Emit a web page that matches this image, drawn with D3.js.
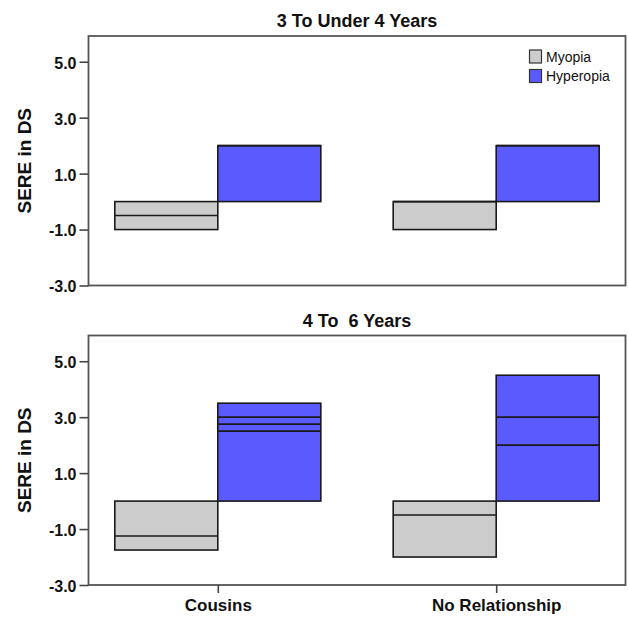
<!DOCTYPE html>
<html>
<head>
<meta charset="utf-8">
<script src="https://cdn.jsdelivr.net/npm/d3@7/dist/d3.min.js"></script>
<style>
  body { margin: 0; background: #fff; }
  text { font-family: "Liberation Sans", Arial, sans-serif; }
</style>
</head>
<body>
<svg id="chart" width="628" height="617"></svg>
<script>
// ---- data ----
const panels = ["3 To Under 4 Years", "4 To  6 Years"];
const categories = ["Cousins", "No Relationship"];
const series = ["Myopia", "Hyperopia"];
const seriesColors = ["#cccccc", "#5a5aff"];
const yTicks = [5.0, 3.0, 1.0, -1.0, -3.0];
const yTickLabels = ["5.0", "3.0", "1.0", "-1.0", "-3.0"];

// [panel][category]
const myopiaLow   = [[-1.0, -1.0], [-1.75, -2.0]];
const myopiaHigh  = [[0, 0], [0, 0]];
const myopiaLines = [[[-0.5], [0]], [[-1.25], [-0.5]]];
const hyperopiaLow   = [[0, 0], [0, 0]];
const hyperopiaHigh  = [[2.0, 2.0], [3.5, 4.5]];
const hyperopiaLines = [[[2.0], [2.0]], [[3.0, 2.75, 2.5], [3.0, 2.0]]];

const lows  = [myopiaLow, hyperopiaLow];
const highs = [myopiaHigh, hyperopiaHigh];
const lines = [myopiaLines, hyperopiaLines];

// ---- layout ----
const svg = d3.select("#chart");
const frameL = 88.5, frameR = 625.5;
const panelTops = [36, 335.5];
const panelH = 249.5;

const x = d3.scalePoint().domain(categories).range([frameL, frameR]).padding(0.4645);
const boxW = x.step() * 0.37;
const xs = d3.scaleBand().domain(series).range([-boxW, boxW]).padding(0);

panels.forEach((title, p) => {
  const top = panelTops[p], bottom = top + panelH;
  const y = d3.scaleLinear().domain([-3, 5.92]).range([bottom, top]);
  const g = svg.append("g");

  // title
  g.append("text")
    .attr("x", (frameL + frameR) / 2).attr("y", top - 9)
    .attr("text-anchor", "middle")
    .style("font-size", "18px").style("font-weight", "bold")
    .style("white-space", "pre")
    .attr("fill", "#111")
    .text(title);

  // boxes
  categories.forEach((c, ci) => {
    series.forEach((s, si) => {
      const x0 = x(c) + xs(s);
      const lo = lows[si][p][ci], hi = highs[si][p][ci];
      g.append("rect")
        .attr("x", x0).attr("y", y(hi))
        .attr("width", xs.bandwidth()).attr("height", y(lo) - y(hi))
        .attr("fill", seriesColors[si])
        .attr("stroke", "#1a1a1a").attr("stroke-width", 1.6);
      lines[si][p][ci].forEach(v => {
        g.append("line")
          .attr("x1", x0).attr("x2", x0 + xs.bandwidth())
          .attr("y1", y(v)).attr("y2", y(v))
          .attr("stroke", "#1a1a1a").attr("stroke-width", 1.6);
      });
    });
  });

  // frame
  g.append("rect")
    .attr("x", frameL).attr("y", top)
    .attr("width", frameR - frameL).attr("height", panelH)
    .attr("fill", "none").attr("stroke", "#555").attr("stroke-width", 1.8);

  // y axis
  const yAxis = d3.axisLeft(y).tickValues(yTicks)
    .tickFormat((d, i) => yTickLabels[i]).tickSize(9).tickPadding(3);
  const ga = g.append("g").attr("transform", `translate(${frameL},0)`).call(yAxis);
  ga.select(".domain").remove();
  ga.selectAll(".tick line").attr("stroke", "#444").attr("stroke-width", 1.6);
  ga.selectAll(".tick text")
    .style("font-size", "16px").style("font-weight", "bold")
    .attr("fill", "#111").attr("dy", "0.4em");

  // y axis title
  g.append("text")
    .attr("transform", `translate(24,${(top + bottom) / 2}) rotate(-90)`)
    .attr("text-anchor", "middle").attr("dominant-baseline", "central")
    .style("font-size", "19px").style("font-weight", "bold")
    .attr("fill", "#111")
    .text("SERE in DS");

  // x axis (bottom panel only)
  if (p === panels.length - 1) {
    const xAxis = d3.axisBottom(x).tickSize(8).tickPadding(6);
    const gx = g.append("g").attr("transform", `translate(0,${bottom})`).call(xAxis);
    gx.select(".domain").remove();
    gx.selectAll(".tick line").attr("stroke", "#444").attr("stroke-width", 1.6);
    gx.selectAll(".tick text")
      .style("font-size", "17px").style("font-weight", "bold")
      .attr("fill", "#111");
  }

  // legend (top panel only)
  if (p === 0) {
    const lg = g.append("g");
    series.forEach((s, si) => {
      const cy = 56.5 + si * 19.5;
      lg.append("rect")
        .attr("x", 529.5).attr("y", cy - 6.5)
        .attr("width", 12).attr("height", 13)
        .attr("fill", seriesColors[si]).attr("stroke", "#333").attr("stroke-width", 1.2);
      lg.append("text")
        .attr("x", 546).attr("y", cy)
        .attr("dominant-baseline", "central")
        .style("font-size", "14px").attr("fill", "#111")
        .text(s);
    });
  }
});
</script>
</body>
</html>
